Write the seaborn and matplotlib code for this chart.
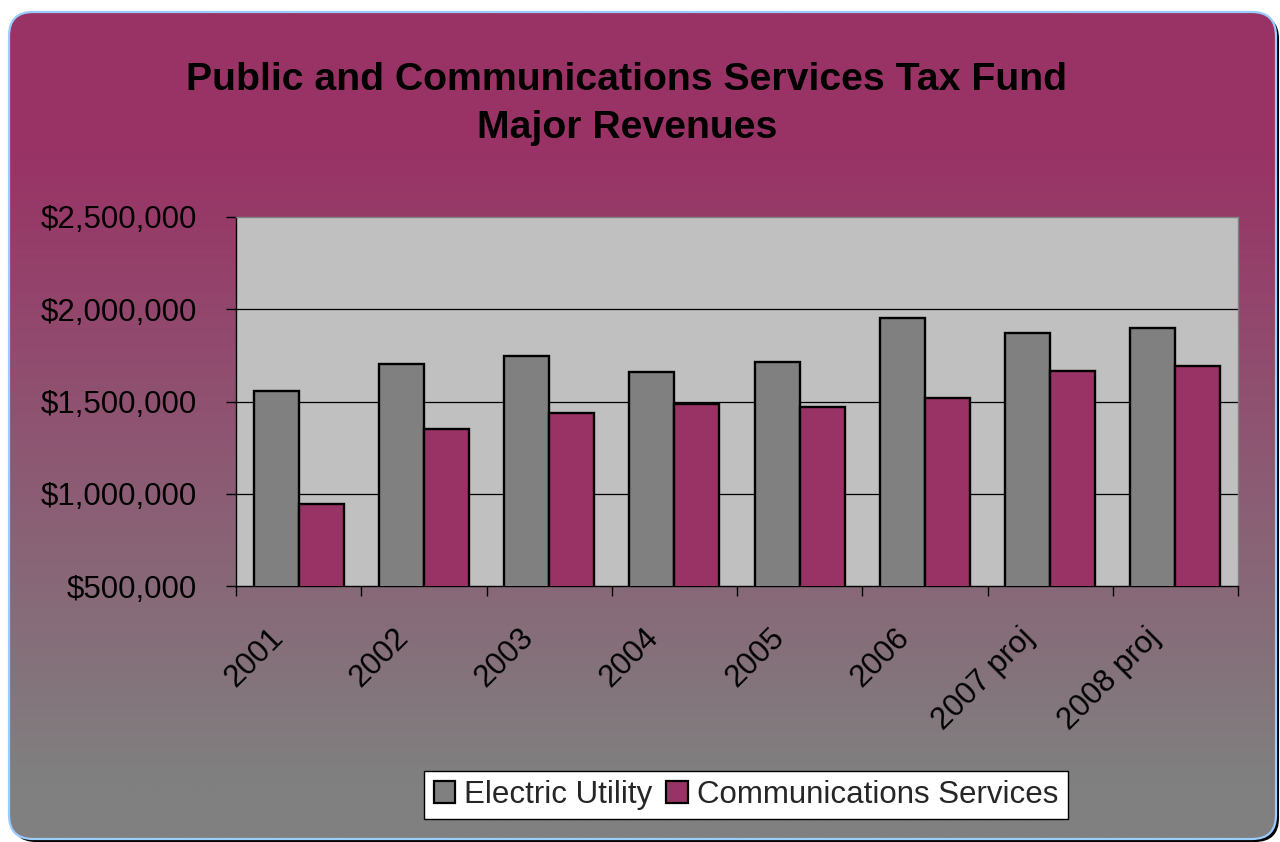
import numpy as np
import pandas as pd
import matplotlib
matplotlib.use("Agg")
import matplotlib.pyplot as plt
import seaborn as sns
from matplotlib.patches import FancyBboxPatch, Patch
from matplotlib.colors import LinearSegmentedColormap
from matplotlib.ticker import FixedLocator, FuncFormatter
from matplotlib.transforms import ScaledTranslation

# Revenue by fiscal year
years = ["2001", "2002", "2003", "2004", "2005", "2006", "2007 proj", "2008 proj"]
electric_utility = [1557000, 1703000, 1747000, 1660000, 1712000, 1954000, 1870000, 1898000]
communications_services = [943000, 1349000, 1438000, 1486000, 1472000, 1517000, 1665000, 1691000]
series_names = ["Electric Utility", "Communications Services"]
series_colors = ["#808080", "#993366"]

df = pd.DataFrame({
    "year": years * 2,
    "revenue": electric_utility + communications_services,
    "series": [series_names[0]] * len(years) + [series_names[1]] * len(years),
})

sns.set_theme(style="white")
plt.rcParams["font.family"] = ["Liberation Sans", "DejaVu Sans"]

W, H = 1280, 842
fig = plt.figure(figsize=(W / 100, H / 100), dpi=100)
fig.patch.set_facecolor("white")

# ---- rounded gradient panel behind the chart ----
bg = fig.add_axes([0, 0, 1, 1], zorder=-10)
bg.set_xlim(0, W)
bg.set_ylim(H, 0)
bg.axis("off")
x0, y0, x1, y1 = 9, 12, 1276, 839
radius = 24
shadow = FancyBboxPatch((x0 + 3, y0 + 3), x1 - x0, y1 - y0,
                        boxstyle=f"round,pad=0,rounding_size={radius}",
                        fc="black", ec="none", zorder=0)
bg.add_patch(shadow)
panel = FancyBboxPatch((x0, y0), x1 - x0, y1 - y0,
                       boxstyle=f"round,pad=0,rounding_size={radius}",
                       fc="none", ec="#99CCFF", lw=1.6, zorder=3)
bg.add_patch(panel)
cmap = LinearSegmentedColormap.from_list(
    "panel", [(0.0, "#993366"), (0.17, "#993366"), (0.93, "#808080"), (1.0, "#808080")])
grad = np.linspace(0, 1, 512)[:, None]
im = bg.imshow(grad, extent=[x0, x1, y1, y0], cmap=cmap, aspect="auto",
               interpolation="bilinear", zorder=1)
clip = FancyBboxPatch((x0, y0), x1 - x0, y1 - y0,
                      boxstyle=f"round,pad=0,rounding_size={radius}",
                      fc="none", ec="none", transform=bg.transData)
im.set_clip_path(clip)

# ---- title ----
fig.text(627 / W, 1 - 104 / H,
         "Public and Communications Services Tax Fund\nMajor Revenues",
         ha="center", va="center", fontsize=28.3, fontweight="bold",
         color="black", linespacing=1.42)

# ---- bar chart ----
ax = fig.add_axes([236 / W, 1 - 586 / H, (1238 - 236) / W, (586 - 217) / H])
ax.set_facecolor("#C0C0C0")
sns.barplot(data=df, x="year", y="revenue", hue="series", palette=series_colors,
            width=0.72, gap=0, saturation=1, edgecolor="black", linewidth=1.7,
            legend=False, ax=ax, zorder=3)

ax.set_ylim(500000, 2500000)
ax.set_xlim(-0.5, len(years) - 0.5)
ax.yaxis.set_major_locator(FixedLocator([500000, 1000000, 1500000, 2000000, 2500000]))
ax.yaxis.set_major_formatter(FuncFormatter(lambda v, p: f"${v:,.0f}"))
for v in [1000000, 1500000, 2000000]:
    ax.axhline(v, color="black", lw=0.9, zorder=1)

ax.set_xlabel("")
ax.set_ylabel("")
ax.xaxis.set_minor_locator(FixedLocator(np.arange(-0.5, len(years), 1.0)))
ax.tick_params(axis="x", which="major", length=0, pad=34, labelsize=22.5,
               labelcolor="black")
ax.tick_params(axis="x", which="minor", length=7, width=1, color="black",
               direction="out", bottom=True)
ax.tick_params(axis="y", which="major", length=7, width=1, color="black",
               direction="out", left=True, pad=21, labelsize=22.5, labelcolor="black")

for lab in ax.get_xticklabels():
    lab.set_rotation(45)
    lab.set_ha("right")
    lab.set_va("center")
    lab.set_rotation_mode("anchor")
    lab.set_transform(lab.get_transform() +
                      ScaledTranslation(-20 / 100, 0, fig.dpi_scale_trans))

for side in ["left", "bottom"]:
    ax.spines[side].set_color("black")
    ax.spines[side].set_linewidth(1.0)
for side in ["top", "right"]:
    ax.spines[side].set_color("#808080")
    ax.spines[side].set_linewidth(1.0)

# ---- legend ----
handles = [Patch(facecolor=c, edgecolor="black", linewidth=1.6) for c in series_colors]
leg = fig.legend(handles, series_names, loc="center",
                 bbox_to_anchor=(746 / W, 1 - 795 / H), bbox_transform=fig.transFigure,
                 ncol=2, fontsize=22.5, frameon=True, fancybox=False,
                 handlelength=0.7, handleheight=0.7, handletextpad=0.28,
                 columnspacing=0.45, borderpad=0.3, borderaxespad=0)
leg.get_frame().set_facecolor("white")
leg.get_frame().set_edgecolor("black")
leg.get_frame().set_linewidth(1.0)
leg.get_frame().set_alpha(1)

fig.savefig("out.png", dpi=100)
